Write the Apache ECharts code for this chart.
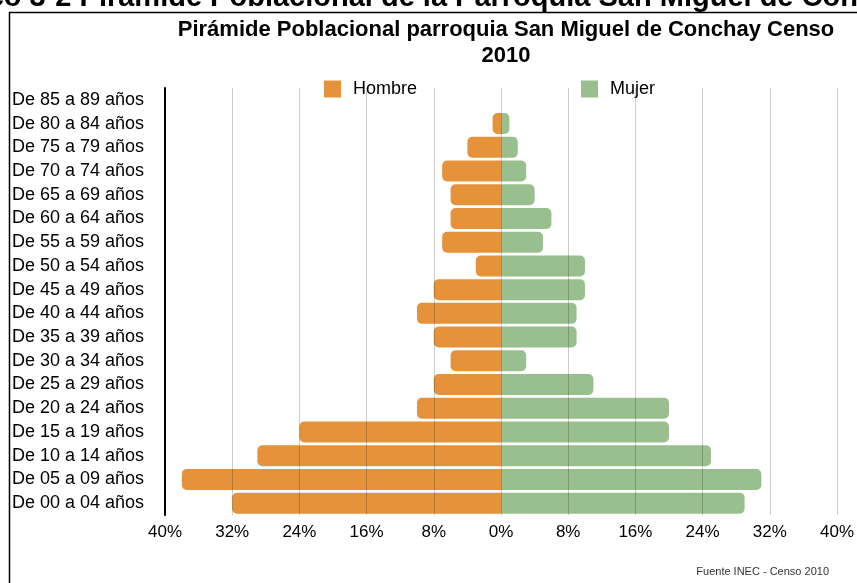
<!DOCTYPE html>
<html>
<head>
<meta charset="utf-8">
<script src="https://cdn.jsdelivr.net/npm/echarts@6/dist/echarts.min.js"></script>
<style>
  html, body { margin: 0; padding: 0; background: #fff; }
  #charts { width: 857px; height: 583px; }
</style>
</head>
<body>
<div id="charts"></div>
<script>
// grupos de edad, de abajo hacia arriba
var grupos = ['De 00 a 04 años', 'De 05 a 09 años', 'De 10 a 14 años', 'De 15 a 19 años',
    'De 20 a 24 años', 'De 25 a 29 años', 'De 30 a 34 años', 'De 35 a 39 años',
    'De 40 a 44 años', 'De 45 a 49 años', 'De 50 a 54 años', 'De 55 a 59 años',
    'De 60 a 64 años', 'De 65 a 69 años', 'De 70 a 74 años', 'De 75 a 79 años',
    'De 80 a 84 años', 'De 85 a 89 años'];
var hombre = [32, 38, 29, 24, 10, 8, 6, 8, 10, 8, 3, 7, 6, 6, 7, 4, 1, 0];
var mujer = [29, 31, 25, 20, 20, 11, 3, 9, 9, 10, 10, 5, 6, 4, 3, 2, 1, 0];

var fuente = 'Liberation Sans, Arial, Helvetica, sans-serif';

var myChart = echarts.init(document.getElementById('charts'));

var option = {
    animation: false,
    textStyle: { fontFamily: fuente },
    title: {
        text: 'Pirámide Poblacional parroquia San Miguel de Conchay Censo\n2010',
        left: 501,
        textAlign: 'center',
        top: 12,
        textStyle: { fontSize: 22, fontWeight: 'bold', color: '#000', lineHeight: 26, fontFamily: fuente }
    },
    legend: {
        data: ['Hombre', 'Mujer'],
        left: 324,
        top: 80,
        padding: 0,
        itemWidth: 17,
        itemHeight: 17,
        itemGap: 164,
        icon: 'rect',
        textStyle: { fontSize: 18, color: '#000', padding: [0, 0, 0, 7], fontFamily: fuente }
    },
    grid: { left: 165, right: 20, top: 88, bottom: 68, containLabel: false },
    xAxis: {
        type: 'value',
        min: -40,
        max: 40,
        interval: 8,
        z: 3,
        axisLine: { show: false },
        axisTick: { show: false },
        splitLine: { lineStyle: { color: 'rgba(0,0,0,0.2)', width: 1 } },
        axisLabel: {
            margin: 9,
            fontSize: 17,
            color: '#000',
            formatter: function (v) { return Math.abs(v) + '%'; }
        }
    },
    yAxis: {
        type: 'category',
        data: grupos,
        axisLine: { onZero: false, lineStyle: { color: '#000', width: 2 } },
        axisTick: { show: false },
        axisLabel: { align: 'left', margin: 153, fontSize: 18, color: '#000' }
    },
    graphic: [
        {
            type: 'rect',
            shape: { x: 9.5, y: 12.5, width: 900, height: 700 },
            style: { fill: 'none', stroke: '#000', lineWidth: 1.5 },
            silent: true
        },
        {
            type: 'text',
            x: -80,
            y: -2,
            style: {
                text: 'Gráfico 3-2 Pirámide Poblacional de la Parroquia San Miguel de Conchay',
                font: 'bold 29px ' + fuente,
                fill: '#000',
                verticalAlign: 'middle'
            }
        },
        {
            type: 'text',
            x: 829,
            y: 572,
            style: {
                text: 'Fuente INEC - Censo 2010',
                font: '11px ' + fuente,
                fill: '#333',
                align: 'right',
                verticalAlign: 'middle'
            }
        }
    ],
    series: [
        {
            name: 'Hombre',
            type: 'bar',
            stack: 'total',
            barWidth: 21,
            itemStyle: { color: '#E6923B', borderRadius: [5, 0, 0, 5] },
            data: hombre.map(function (v) { return -v; })
        },
        {
            name: 'Mujer',
            type: 'bar',
            stack: 'total',
            barWidth: 21,
            itemStyle: { color: '#9ABF8F', borderRadius: [0, 5, 5, 0] },
            data: mujer
        }
    ]
};
myChart.setOption(option);
</script>
</body>
</html>
